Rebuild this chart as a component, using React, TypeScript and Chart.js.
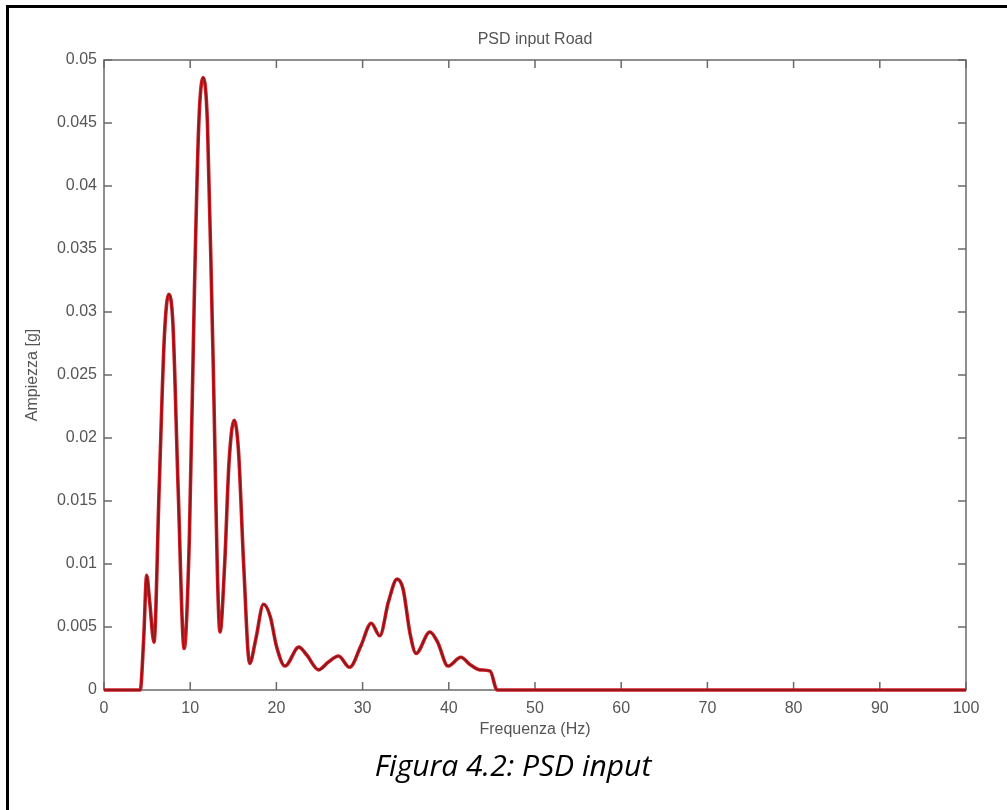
import { useEffect, useRef } from 'react';
import { Chart, registerables } from 'chart.js';

Chart.register(...registerables);

// Frequency (Hz) and PSD amplitude (g)
const freqHz = [
  0, 4.2, 4.6, 4.95, 5.3, 5.8, 6.4, 7.0, 7.5, 8.0, 8.6, 9.3, 9.9, 10.5, 11.0, 11.5, 12.0, 12.6,
  13.46, 14.0, 14.5, 15.1, 15.6, 16.2, 16.9, 17.6, 18.5, 19.3, 20.0, 21.0, 22.6, 23.5, 24.9,
  26.0, 27.2, 28.5, 29.8, 31.0, 32.0, 33.0, 34.0, 34.7, 35.5, 36.2, 37.8, 38.7, 39.9, 41.4,
  42.5, 43.6, 44.8, 45.6, 100,
];
const amplitudeG = [
  0, 0, 0.004, 0.0091, 0.007, 0.0038, 0.016, 0.028, 0.0314, 0.029, 0.016, 0.0033, 0.012, 0.032,
  0.045, 0.0486, 0.045, 0.028, 0.0046, 0.010, 0.018, 0.0214, 0.019, 0.010, 0.0021, 0.004,
  0.0068, 0.0058, 0.0035, 0.0019, 0.0034, 0.0028, 0.0016, 0.0022, 0.0027, 0.0018, 0.0035,
  0.0053, 0.0043, 0.0070, 0.0088, 0.0080, 0.0045, 0.0029, 0.0046, 0.0038, 0.0019, 0.0026,
  0.0020, 0.0016, 0.0015, 0, 0,
];

const xTickValues = [0, 10, 20, 30, 40, 50, 60, 70, 80, 90, 100];
const xTickLabels = ['0', '10', '20', '30', '40', '50', '60', '70', '80', '90', '100'];
const yTickValues = [0, 0.005, 0.01, 0.015, 0.02, 0.025, 0.03, 0.035, 0.04, 0.045, 0.05];
const yTickLabels = ['0', '0.005', '0.01', '0.015', '0.02', '0.025', '0.03', '0.035', '0.04', '0.045', '0.05'];

const chartTitle = 'PSD input Road';
const xAxisTitle = 'Frequenza (Hz)';
const yAxisTitle = 'Ampiezza [g]';
const captionText = 'Figura 4.2: PSD input';

const FONT = 'Liberation Sans';
const TEXT_COLOR = '#555555';

const matlabBox = {
  id: 'matlabBox',
  beforeDatasetsDraw(chart: any) {
    const { ctx, chartArea, scales } = chart;
    const { left, right, top, bottom } = chartArea;
    const x = scales.x;
    const y = scales.y;
    const tl = 8;
    ctx.save();
    ctx.strokeStyle = '#6a6a6a';
    ctx.lineWidth = 1.5;
    ctx.strokeRect(left, top, right - left, bottom - top);
    ctx.beginPath();
    for (const v of xTickValues) {
      const px = x.getPixelForValue(v);
      ctx.moveTo(px, bottom);
      ctx.lineTo(px, bottom - tl);
      ctx.moveTo(px, top);
      ctx.lineTo(px, top + tl);
    }
    for (const v of yTickValues) {
      const py = y.getPixelForValue(v);
      ctx.moveTo(left, py);
      ctx.lineTo(left + tl, py);
      ctx.moveTo(right, py);
      ctx.lineTo(right - tl, py);
    }
    ctx.stroke();
    ctx.restore();
  },
};

export default function App() {
  const canvasRef = useRef<HTMLCanvasElement | null>(null);

  useEffect(() => {
    if (!canvasRef.current) return;
    const points = freqHz.map((f, i) => ({ x: f, y: amplitudeG[i] }));
    const chart = new Chart(canvasRef.current, {
      type: 'line',
      data: {
        datasets: [
          {
            data: points,
            borderColor: '#7e1a1c',
            borderWidth: 1.6,
            pointRadius: 0,
            cubicInterpolationMode: 'monotone',
            clip: false as any,
            order: 0,
          },
          {
            data: points,
            borderColor: '#d81b24',
            borderWidth: 3.6,
            pointRadius: 0,
            cubicInterpolationMode: 'monotone',
            clip: false as any,
            order: 1,
          },
        ],
      },
      options: {
        animation: false,
        responsive: false,
        devicePixelRatio: 1,
        layout: { padding: { left: 0, right: 41, top: 0, bottom: 0 } },
        plugins: {
          legend: { display: false },
          tooltip: { enabled: false },
          title: {
            display: true,
            fullSize: false,
            text: chartTitle,
            color: TEXT_COLOR,
            font: { family: FONT, size: 16, weight: 'normal' },
            padding: { top: 30.4, bottom: 10.4 },
          },
        },
        scales: {
          x: {
            type: 'linear',
            min: 0,
            max: 100,
            grid: { display: false, drawTicks: false },
            border: { display: false },
            afterBuildTicks: (scale: any) => {
              scale.ticks = xTickValues.map((v) => ({ value: v }));
            },
            afterFit: (scale: any) => {
              scale.height = 55;
            },
            ticks: {
              color: TEXT_COLOR,
              font: { family: FONT, size: 16 },
              padding: 9,
              maxRotation: 0,
              autoSkip: false,
              callback: (_v: any, i: number) => xTickLabels[i],
            },
            title: {
              display: true,
              text: xAxisTitle,
              color: TEXT_COLOR,
              font: { family: FONT, size: 16 },
              padding: { top: 0, bottom: 5.4 },
            },
          },
          y: {
            type: 'linear',
            min: 0,
            max: 0.05,
            grid: { display: false, drawTicks: false },
            border: { display: false },
            afterBuildTicks: (scale: any) => {
              scale.ticks = yTickValues.map((v) => ({ value: v }));
            },
            afterFit: (scale: any) => {
              scale.width = 104;
            },
            ticks: {
              color: TEXT_COLOR,
              font: { family: FONT, size: 16 },
              padding: 7,
              autoSkip: false,
              callback: (_v: any, i: number) => yTickLabels[i],
            },
            title: {
              display: true,
              text: yAxisTitle,
              color: TEXT_COLOR,
              font: { family: FONT, size: 16 },
              padding: { top: 23, bottom: 0 },
            },
          },
        },
      },
      plugins: [matlabBox],
    } as any);
    return () => chart.destroy();
  }, []);

  return (
    <div
      style={{
        position: 'absolute',
        left: 0,
        top: 0,
        width: 1007,
        height: 810,
        background: '#ffffff',
        overflow: 'hidden',
      }}
    >
      <div
        style={{
          position: 'absolute',
          left: 6,
          top: 5,
          width: 1200,
          height: 1000,
          borderLeft: '3px solid #000',
          borderTop: '3px solid #000',
        }}
      />
      <canvas
        ref={canvasRef}
        width={1007}
        height={745}
        style={{ position: 'absolute', left: 0, top: 0, width: 1007, height: 745 }}
      />
      <div
        style={{
          position: 'absolute',
          left: 0,
          top: 747,
          width: 1026,
          textAlign: 'center',
          fontFamily: '"Open Sans", sans-serif',
          fontStyle: 'italic',
          fontSize: 30,
          lineHeight: '36px',
          color: '#000',
        }}
      >
        {captionText}
      </div>
    </div>
  );
}
